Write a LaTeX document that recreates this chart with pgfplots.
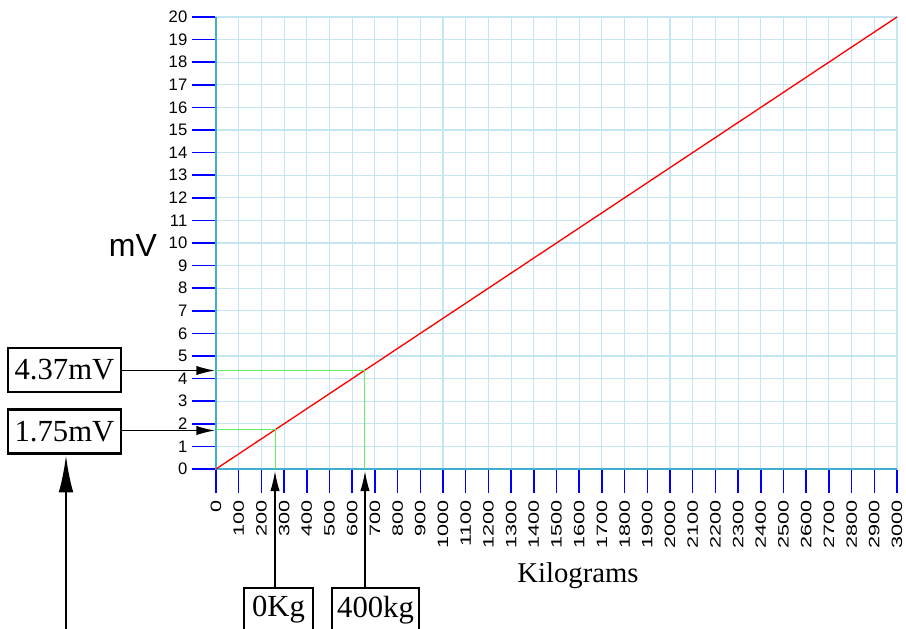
\documentclass[border=0pt]{standalone}
\usepackage{pgfplots}
\pgfplotsset{compat=1.18}
\usepackage{fontspec}
\setmainfont{Liberation Serif}
\newfontfamily\arial{Liberation Sans}
\usetikzlibrary{arrows.meta}
\definecolor{gridblue}{RGB}{195,230,242}
\definecolor{axisteal}{RGB}{60,175,210}
\definecolor{lgreen}{RGB}{100,238,100}
\begin{document}
\begin{tikzpicture}
\begin{axis}[
    at={(0pt,0pt)}, anchor=south west,
    scale only axis,
    width=510.75pt, height=339pt,
    xmin=0, xmax=3000, ymin=0, ymax=20,
    xtick distance=100, ytick distance=1,
    xtick pos=lower, ytick pos=left,
    axis line style={gridblue, line width=0.8pt},
    grid=major,
    major grid style={gridblue, line width=0.8pt},
    tick align=outside,
    major tick length=18pt,
    tick style={blue, line width=1.1pt},
    scaled x ticks=false,
    /pgf/number format/1000 sep={},
    /pgf/number format/assume math mode=true,
    xticklabel={\scalebox{1.3}[0.9]{\pgfmathprintnumber{\tick}}},
    xticklabel shift=2pt,
    x tick label style={rotate=90, anchor=east, font=\arial\fontsize{12.5}{13}\selectfont},
    y tick label style={font=\arial\fontsize{12.5}{13}\selectfont},
    clip=false,
]
\draw[axisteal, line width=0.9pt] (axis cs:0,20) -- (axis cs:0,0) -- (axis cs:3000,0);
\addplot[red, line width=1pt] coordinates {(0,0) (3000,20)};
\addplot[lgreen, line width=1pt] coordinates {(0,1.75) (262.5,1.75) (262.5,0)};
\addplot[lgreen, line width=1pt] coordinates {(0,4.37) (655.5,4.37) (655.5,0)};
\end{axis}
\begin{scope}[x=0.75pt, y=-0.75pt, xshift=-162pt, yshift=351.75pt]
  \node[font=\arial\fontsize{24}{24}\selectfont] at (133,245) {mV};
  \node[font=\fontsize{21.5}{22}\selectfont] at (578,576) {Kilograms};
  \tikzset{bx/.style={draw, line width=1.6pt, inner sep=0pt, minimum height=33pt, font=\fontsize{23}{23}\selectfont}}
  \node[bx, minimum width=85pt] at (64.5,370) {4.37mV};
  \node[bx, minimum width=85pt] at (64.5,431.5) {1.75mV};
  \node[bx, minimum width=52pt] at (278.5,610) {0Kg};
  \node[bx, minimum width=65pt] at (375.5,610) {400kg};
  \draw[line width=1pt, -{Latex[length=14pt, width=7pt]}] (121,370.5) -- (215,370.5);
  \draw[line width=1pt, -{Latex[length=14pt, width=7pt]}] (121,430.5) -- (215,430.5);
  \draw[line width=1pt, -{Latex[length=15pt, width=7pt]}] (275,588) -- (275,471);
  \draw[line width=1pt, -{Latex[length=15pt, width=7pt]}] (365,588) -- (365,471);
  \draw[line width=2pt, -{Latex[length=28pt, width=11pt]}] (66,640) -- (66,455);
  \pgfresetboundingbox
  \path (0,0) rectangle (906,628);
\end{scope}
\end{tikzpicture}
\end{document}
